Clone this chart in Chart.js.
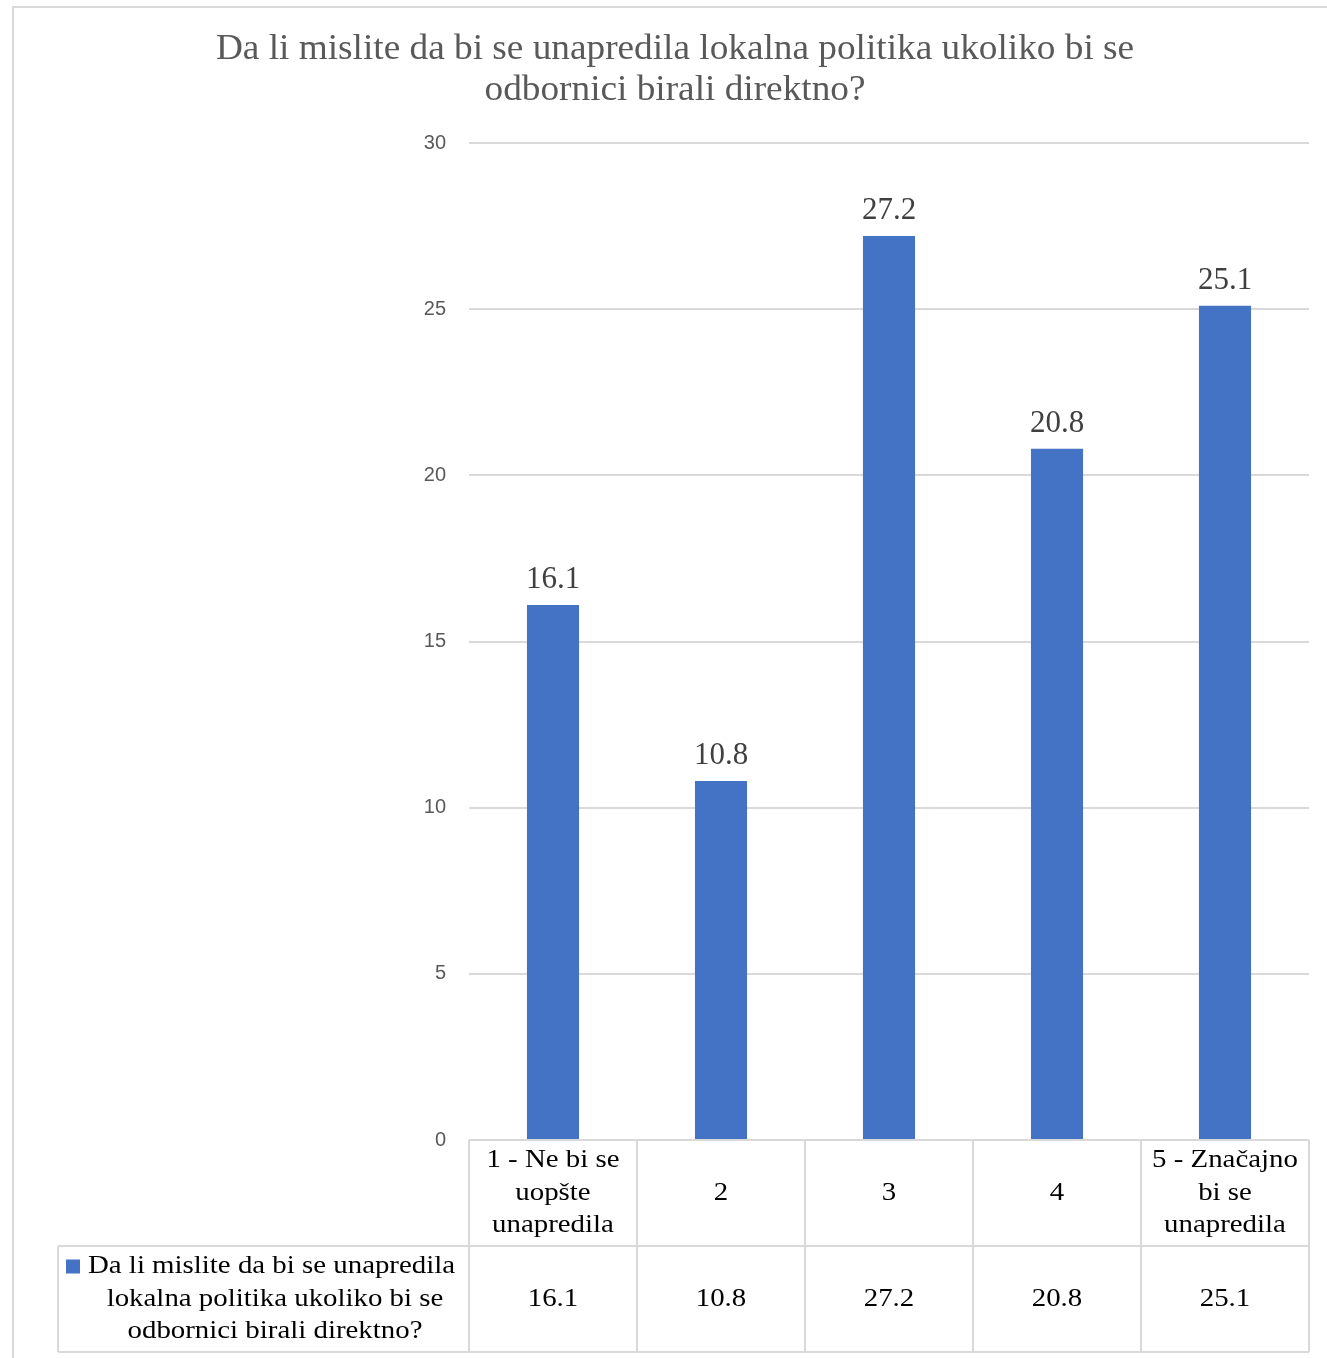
<!DOCTYPE html>
<html>
<head>
<meta charset="utf-8">
<script src="https://cdn.jsdelivr.net/npm/chart.js@4.4.1/dist/chart.umd.min.js"></script>
<style>
html,body{margin:0;padding:0;background:#fff;}
#wrap{position:relative;width:1327px;height:1358px;}
</style>
</head>
<body>
<div id="wrap"><canvas id="c" width="1327" height="1358"></canvas></div>
<script>
const titleLines = ["Da li mislite da bi se unapredila lokalna politika ukoliko bi se", "odbornici birali direktno?"];
const categories = [["1 - Ne bi se", "uopšte", "unapredila"], ["2"], ["3"], ["4"], ["5 - Značajno", "bi se", "unapredila"]];
const values = [16.1, 10.8, 27.2, 20.8, 25.1];
const seriesName = ["Da li mislite da bi se unapredila", "lokalna politika ukoliko bi se", "odbornici birali direktno?"];
const yMax = 30;
const yStep = 5;

const BAR = '#4472C4';
const GRID = '#d9d9d9';
const SERIF = '"Liberation Serif", "Times New Roman", serif';

function txt(ctx, s, x, y, sx) {
  ctx.save();
  ctx.translate(x, y);
  ctx.scale(sx, 1);
  ctx.fillText(s, 0, 0);
  ctx.restore();
}

const decor = {
  id: 'decor',
  beforeDraw(chart) {
    const ctx = chart.ctx;
    ctx.save();
    ctx.fillStyle = '#fff';
    ctx.fillRect(0, 0, chart.width, chart.height);
    ctx.strokeStyle = GRID;
    ctx.lineWidth = 2;
    ctx.beginPath();
    ctx.moveTo(13, chart.height);
    ctx.lineTo(13, 7);
    ctx.lineTo(chart.width, 7);
    ctx.stroke();
    ctx.fillStyle = '#595959';
    ctx.font = '35px ' + SERIF;
    ctx.textAlign = 'center';
    ctx.textBaseline = 'middle';
    txt(ctx, titleLines[0], 675, 50, 1.065);
    txt(ctx, titleLines[1], 675, 91, 1.065);
    ctx.restore();
  },
  afterDatasetsDraw(chart) {
    const ctx = chart.ctx;
    const meta = chart.getDatasetMeta(0);
    ctx.save();
    ctx.fillStyle = '#404040';
    ctx.font = '31px ' + SERIF;
    ctx.textAlign = 'center';
    ctx.textBaseline = 'alphabetic';
    meta.data.forEach((bar, i) => {
      ctx.fillText(values[i].toFixed(1), bar.x, bar.y - 17);
    });
    ctx.restore();
  },
  afterDraw(chart) {
    const ctx = chart.ctx;
    const xs = chart.scales.x;
    const area = chart.chartArea;
    const n = categories.length;
    const step = (area.right - area.left) / n;
    const top = area.bottom;
    const rowH = 106;
    const mid = top + rowH;
    const bot = top + 2 * rowH;
    const legLeft = 58;
    const SX = 1.11;
    ctx.save();
    ctx.strokeStyle = GRID;
    ctx.lineWidth = 2;
    ctx.beginPath();
    ctx.moveTo(area.left, top); ctx.lineTo(area.right, top);
    ctx.moveTo(legLeft, mid); ctx.lineTo(area.right, mid);
    ctx.moveTo(legLeft, bot); ctx.lineTo(area.right, bot);
    ctx.moveTo(legLeft, mid); ctx.lineTo(legLeft, bot);
    for (let i = 0; i <= n; i++) {
      const x = area.left + i * step;
      ctx.moveTo(x, top); ctx.lineTo(x, bot);
    }
    ctx.stroke();
    ctx.fillStyle = '#000';
    ctx.font = '26px ' + SERIF;
    ctx.textAlign = 'center';
    ctx.textBaseline = 'middle';
    const lh = 32.5;
    categories.forEach((lines, i) => {
      const cx = xs.getPixelForValue(i);
      const cy = top + rowH / 2;
      const y0 = cy - (lines.length - 1) * lh / 2;
      lines.forEach((t, k) => txt(ctx, t, cx, y0 + k * lh, SX));
      txt(ctx, values[i].toFixed(1), cx, mid + rowH / 2, SX);
    });
    const lcx = 275;
    const ly0 = mid + rowH / 2 - lh;
    const w0 = ctx.measureText(seriesName[0]).width * SX;
    const keyW = 14, gap = 6;
    const startX = 66;
    ctx.fillStyle = BAR;
    ctx.fillRect(startX, ly0 - 7, keyW, keyW);
    ctx.fillStyle = '#000';
    ctx.textAlign = 'left';
    txt(ctx, seriesName[0], startX + keyW + 8, ly0, SX);
    ctx.textAlign = 'center';
    txt(ctx, seriesName[1], lcx, ly0 + lh, SX);
    txt(ctx, seriesName[2], lcx, ly0 + 2 * lh, SX);
    ctx.restore();
  }
};

new Chart(document.getElementById('c'), {
  type: 'bar',
  data: {
    labels: categories,
    datasets: [{
      label: seriesName.join(' '),
      data: values,
      backgroundColor: BAR,
      borderWidth: 0,
      barPercentage: 0.62,
      categoryPercentage: 0.5
    }]
  },
  plugins: [decor],
  options: {
    responsive: false,
    animation: false,
    events: [],
    layout: { padding: { left: 0, right: 18, top: 143, bottom: 218 } },
    plugins: {
      legend: { display: false },
      title: { display: false },
      tooltip: { enabled: false }
    },
    scales: {
      x: {
        display: false,
        grid: { display: false }
      },
      y: {
        min: 0,
        max: yMax,
        ticks: {
          stepSize: yStep,
          padding: 23,
          color: '#595959',
          font: { family: '"Liberation Sans", Arial, sans-serif', size: 20 }
        },
        border: { display: false },
        grid: { color: GRID, lineWidth: 2, drawTicks: false },
        afterFit(scale) {
          scale.width = 469;
          scale.paddingTop = 0;
          scale.paddingBottom = 0;
        }
      }
    }
  }
});
</script>
</body>
</html>
